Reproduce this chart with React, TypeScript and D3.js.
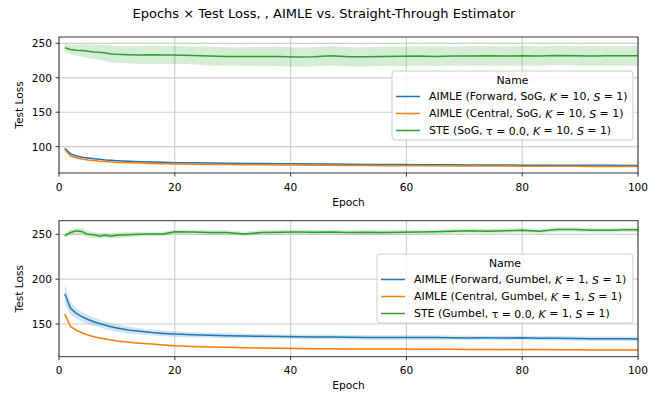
import React from "react";
import * as d3 from "d3";

const epochs = [1, 2, 3, 4, 5, 6, 7, 8, 9, 10, 12, 14, 16, 18, 20, 23, 26, 29, 32, 35, 38, 41, 44, 47, 50, 53, 56, 59, 62, 65, 68, 71, 74, 77, 80, 83, 86, 89, 92, 95, 98, 100];

// top panel (SoG, K = 10)
const sogForward = [97.5, 89.5, 86.5, 84.8, 83.6, 82.5, 81.6, 80.8, 80.2, 79.7, 79, 78.3, 77.8, 77.3, 76.8, 76.5, 76.2, 76, 75.7, 75.5, 75.3, 75.1, 75, 74.7, 74.5, 74.3, 74.2, 74, 73.8, 73.8, 73.6, 73.5, 73.5, 73.3, 73.2, 73.2, 73.1, 73, 73, 72.9, 72.8, 72.8];
const sogForwardSpread = [1.2, 1, 1, 0.9, 0.9, 0.9, 0.8, 0.8, 0.8, 0.8, 0.8, 0.8, 0.8, 0.8, 0.8, 0.8, 0.8, 0.8, 0.8, 0.8, 0.8, 0.8, 0.8, 0.8, 0.8, 0.8, 0.8, 0.8, 0.8, 0.8, 0.8, 0.8, 0.8, 0.8, 0.8, 0.8, 0.8, 0.8, 0.8, 0.8, 0.8, 0.8];
const sogCentral = [96, 86.5, 83.5, 82, 80.7, 79.8, 79, 78.4, 77.9, 77.4, 76.8, 76.2, 75.7, 75.3, 74.9, 74.6, 74.3, 74.1, 73.9, 73.7, 73.5, 73.3, 73.1, 73, 72.8, 72.7, 72.5, 72.4, 72.3, 72.2, 72.1, 72, 71.9, 71.8, 71.7, 71.6, 71.5, 71.5, 71.4, 71.3, 71.2, 71.2];
const sogCentralSpread = [0.8, 0.7, 0.6, 0.6, 0.6, 0.5, 0.5, 0.5, 0.5, 0.5, 0.5, 0.5, 0.5, 0.5, 0.5, 0.5, 0.5, 0.5, 0.5, 0.5, 0.5, 0.5, 0.5, 0.5, 0.5, 0.5, 0.5, 0.5, 0.5, 0.5, 0.5, 0.5, 0.5, 0.5, 0.5, 0.5, 0.5, 0.5, 0.5, 0.5, 0.5, 0.5];
const sogSte = [243.5, 241, 240, 239.5, 238.5, 237.5, 237, 236, 234.5, 234, 233.5, 233, 233.5, 233, 233, 232.5, 231.5, 231, 231, 230.8, 231, 230, 230.5, 232, 230.5, 230.5, 231, 231.2, 231.5, 231, 231.5, 231.8, 232, 231.5, 232, 231.5, 232.5, 232, 231.8, 232, 232, 232];
const sogSteSpread = [6, 7, 8, 9, 10, 10.5, 11, 11.5, 12, 12, 12.5, 13, 13, 13, 13, 13, 13.5, 13.5, 13.5, 14, 14, 14, 14, 14, 14, 14, 14, 14, 14, 14, 14, 14, 14, 14, 14, 14, 14, 14, 14, 14, 14, 14];

// bottom panel (Gumbel, K = 1)
const gumForward = [183.4, 167.4, 161.8, 158, 155, 152.5, 150.5, 148.5, 146.8, 145.4, 143.3, 141.8, 140.5, 139.5, 138.7, 138, 137.4, 137, 136.6, 136.2, 135.9, 135.7, 135.5, 135.4, 135.2, 135, 135, 135, 134.8, 134.8, 134.6, 134.4, 134.5, 134.3, 134.5, 134.2, 134, 133.8, 133.6, 133.5, 133.4, 133.2];
const gumForwardSpread = [11, 7, 6, 5.5, 5, 4.8, 4.5, 4.3, 4, 4, 3.8, 3.5, 3.3, 3.2, 3, 3, 2.8, 2.8, 2.6, 2.6, 2.5, 2.5, 2.5, 2.5, 2.5, 2.5, 2.5, 2.5, 2.5, 2.5, 2.5, 2.5, 2.5, 2.5, 2.5, 2.5, 2.5, 2.5, 2.5, 2.5, 2.5, 2.5];
const gumCentral = [161, 147, 143, 140, 137.6, 135.8, 134.4, 133.2, 132, 131, 129.7, 128.6, 127.6, 126.6, 125.7, 125, 124.4, 124, 123.6, 123.2, 122.9, 122.7, 122.5, 122.3, 122.1, 122, 122, 122, 121.8, 121.8, 121.7, 121.6, 121.6, 121.5, 121.5, 121.4, 121.3, 121.2, 121.1, 121.1, 121, 121];
const gumCentralSpread = [1.2, 1, 1, 1, 1, 1, 1, 1, 1, 1, 1, 1, 1, 1, 1, 1, 1, 1, 1, 1, 1, 1, 1, 1, 1, 1, 1, 1, 1, 1, 1, 1, 1, 1, 1, 1, 1, 1, 1, 1, 1, 1];
const gumSte = [248.5, 252, 254, 253, 250, 249.5, 248, 249, 248, 249, 249.5, 250, 250.5, 250.5, 252.8, 252.5, 252, 252, 250.5, 252, 252.3, 252.5, 252.3, 252.5, 252, 252.3, 252, 252.3, 252.5, 253, 253.5, 254, 253.5, 254, 254.5, 253.5, 255.5, 255.5, 254.5, 254.5, 255, 255];
const gumSteSpread = [3, 3, 3.5, 3.5, 3.5, 3.5, 3, 3, 3, 3, 3, 2.5, 2.5, 2.5, 2.5, 2.5, 2.5, 2.5, 2.5, 2.5, 2.5, 2.5, 2.5, 2.5, 2.5, 2.5, 2.5, 2.5, 2.5, 2.5, 2.5, 2.5, 2.5, 2.5, 2.5, 2.5, 2.5, 2.5, 2.5, 2.5, 2.5, 2.5];

const xTicks = [0, 20, 40, 60, 80, 100];
const topYTicks = [100, 150, 200, 250];
const bottomYTicks = [150, 200, 250];

const colors = ["#1f77b4", "#ff7f0e", "#2ca02c"];
const font = "DejaVu Sans";
const fs = 10.6;
const legendFs = 10.9;

type Label = { pre: string; kval: string; sval: string; tau?: boolean };

const topLabels: Label[] = [
  { pre: "AIMLE (Forward, SoG, ", kval: "10", sval: "1" },
  { pre: "AIMLE (Central, SoG, ", kval: "10", sval: "1" },
  { pre: "STE (SoG, ", kval: "10", sval: "1", tau: true },
];
const bottomLabels: Label[] = [
  { pre: "AIMLE (Forward, Gumbel, ", kval: "1", sval: "1" },
  { pre: "AIMLE (Central, Gumbel, ", kval: "1", sval: "1" },
  { pre: "STE (Gumbel, ", kval: "1", sval: "1", tau: true },
];

const LegendText = ({ l, x, y }: { l: Label; x: number; y: number }) => (
  <text x={x} y={y} fontSize={legendFs} fontFamily={font} fill="#000" dominantBaseline="central">
    {l.pre}
    {l.tau && <tspan>{"τ = 0.0, "}</tspan>}
    <tspan fontStyle="italic">K</tspan>
    {" = " + l.kval + ", "}
    <tspan fontStyle="italic">S</tspan>
    {" = " + l.sval + ")"}
  </text>
);

type PanelProps = {
  top: number;
  bottom: number;
  yDomain: [number, number];
  yTicks: number[];
  series: { mean: number[]; spread: number[] }[];
  labels: Label[];
  legend: { x: number; y: number; w: number };
};

const left = 59;
const right = 638;

const Panel = ({ top, bottom, yDomain, yTicks, series, labels, legend }: PanelProps) => {
  const x = d3.scaleLinear().domain([0, 100]).range([left, right]);
  const y = d3.scaleLinear().domain(yDomain).range([bottom, top]);
  const line = d3.line<number>().x((_, i) => x(epochs[i])).y((d) => y(d));
  const clipId = `clip${Math.round(top)}`;
  return (
    <g>
      <defs>
        <clipPath id={clipId}>
          <rect x={left} y={top} width={right - left} height={bottom - top} />
        </clipPath>
      </defs>
      {/* grid */}
      {xTicks.map((t) => (
        <line key={"gx" + t} x1={x(t)} x2={x(t)} y1={top} y2={bottom} stroke="#d0d0d0" strokeWidth={1.2} />
      ))}
      {yTicks.map((t) => (
        <line key={"gy" + t} x1={left} x2={right} y1={y(t)} y2={y(t)} stroke="#d0d0d0" strokeWidth={1.2} />
      ))}
      <g clipPath={`url(#${clipId})`}>
        {series.map((s, k) => {
          const area = d3
            .area<number>()
            .x((_, i) => x(epochs[i]))
            .y0((d, i) => y(d - s.spread[i]))
            .y1((d, i) => y(d + s.spread[i]));
          return <path key={"a" + k} d={area(s.mean) || ""} fill={colors[k]} fillOpacity={0.2} stroke="none" />;
        })}
        {series.map((s, k) => (
          <path key={"l" + k} d={line(s.mean) || ""} fill="none" stroke={colors[k]} strokeWidth={1.5} />
        ))}
      </g>
      {/* spines */}
      <rect x={left} y={top} width={right - left} height={bottom - top} fill="none" stroke="#222" strokeWidth={0.9} />
      {xTicks.map((t) => (
        <g key={"tx" + t}>
          <line x1={x(t)} x2={x(t)} y1={bottom} y2={bottom + 3.5} stroke="#222" strokeWidth={0.9} />
          <text x={x(t)} y={bottom + 17.5} textAnchor="middle" fontSize={fs} fontFamily={font} fill="#000">
            {t}
          </text>
        </g>
      ))}
      {yTicks.map((t) => (
        <g key={"ty" + t}>
          <line x1={left - 3.5} x2={left} y1={y(t)} y2={y(t)} stroke="#222" strokeWidth={0.9} />
          <text x={left - 7} y={y(t)} textAnchor="end" dominantBaseline="central" fontSize={fs} fontFamily={font} fill="#000">
            {t}
          </text>
        </g>
      ))}
      <text x={(left + right) / 2} y={bottom + 32.5} textAnchor="middle" fontSize={fs} fontFamily={font} fill="#000">
        Epoch
      </text>
      <text
        transform={`translate(23,${(top + bottom) / 2}) rotate(-90)`}
        textAnchor="middle"
        fontSize={fs}
        fontFamily={font}
        fill="#000"
      >
        Test Loss
      </text>
      {/* legend */}
      <rect x={legend.x} y={legend.y} width={legend.w} height={69} rx={3} fill="#fff" fillOpacity={0.8} stroke="#cccccc" strokeWidth={1} />
      <text x={legend.x + legend.w / 2} y={legend.y + 9.5} textAnchor="middle" dominantBaseline="central" fontSize={legendFs} fontFamily={font} fill="#000">
        Name
      </text>
      {labels.map((l, k) => {
        const ly = legend.y + 25.5 + k * 17;
        return (
          <g key={"lg" + k}>
            <line x1={legend.x + 4} x2={legend.x + 28} y1={ly} y2={ly} stroke={colors[k]} strokeWidth={1.5} />
            <LegendText l={l} x={legend.x + 37} y={ly} />
          </g>
        );
      })}
    </g>
  );
};

export default function App() {
  return (
    <svg width={667} height={393} style={{ position: "absolute", left: 0, top: 0, background: "#fff" }}>
      <rect width={667} height={393} fill="#fff" />
      <text x={324} y={17.5} textAnchor="middle" fontSize={13} fontFamily={font} fill="#000">
        Epochs × Test Loss, , AIMLE vs. Straight-Through Estimator
      </text>
      <Panel
        top={37}
        bottom={173}
        yDomain={[61.8, 259.2]}
        yTicks={topYTicks}
        series={[
          { mean: sogForward, spread: sogForwardSpread },
          { mean: sogCentral, spread: sogCentralSpread },
          { mean: sogSte, spread: sogSteSpread },
        ]}
        labels={topLabels}
        legend={{ x: 392, y: 71, w: 241 }}
      />
      <Panel
        top={220.7}
        bottom={356.7}
        yDomain={[113.5, 265.2]}
        yTicks={bottomYTicks}
        series={[
          { mean: gumForward, spread: gumForwardSpread },
          { mean: gumCentral, spread: gumCentralSpread },
          { mean: gumSte, spread: gumSteSpread },
        ]}
        labels={bottomLabels}
        legend={{ x: 377, y: 254, w: 256 }}
      />
    </svg>
  );
}
